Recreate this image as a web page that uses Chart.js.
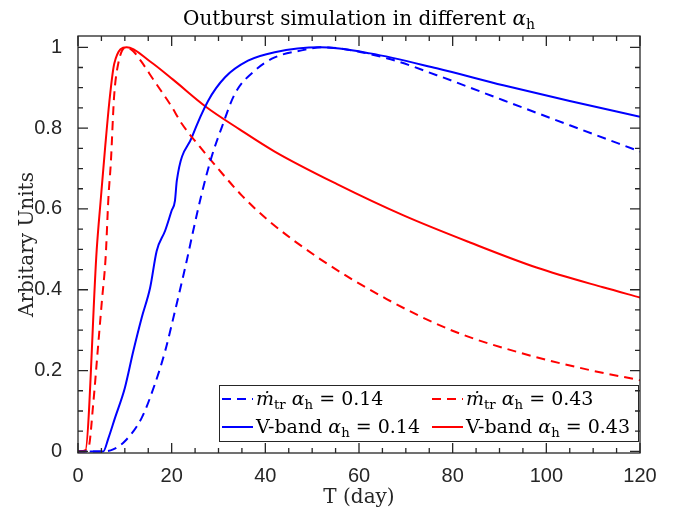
<!DOCTYPE html>
<html>
<head>
<meta charset="utf-8">
<script src="https://cdn.jsdelivr.net/npm/chart.js@4.4.1/dist/chart.umd.min.js"></script>
<style>
  html, body { margin: 0; padding: 0; background: #fff; }
  #wrap { width: 678px; height: 513px; }
</style>
</head>
<body>
<div id="wrap"><canvas id="chart"></canvas></div>
<script>
// mdot_tr, alpha_h = 0.14
var tMdotLow = [0, 5.4, 7.5, 10, 13.6, 16.4, 18.6, 20.7, 23.2, 24.6, 26.4, 28.5, 30.7, 33.5, 37.8, 42, 48, 52, 65.9, 76.6, 90.8, 105, 120];
var mdotLow = [0, 0, 0.005, 0.025, 0.083, 0.166, 0.248, 0.347, 0.471, 0.546, 0.637, 0.728, 0.802, 0.885, 0.943, 0.975, 0.993, 1.0, 0.973, 0.931, 0.869, 0.807, 0.742];
// mdot_tr, alpha_h = 0.43
var tMdotHigh = [0, 2.2, 3.3, 4.2, 5.1, 5.9, 6.5, 7.0, 7.7, 8.6, 10.2, 11.8, 13.5, 16.1, 20, 22.1, 26, 30.7, 35, 40.6, 51.7, 65.9, 80.1, 94.4, 108.6, 120];
var mdotHigh = [0, 0.008, 0.124, 0.248, 0.372, 0.48, 0.629, 0.712, 0.877, 0.96, 1.0, 0.99, 0.965, 0.92, 0.853, 0.812, 0.754, 0.689, 0.633, 0.572, 0.476, 0.377, 0.298, 0.244, 0.203, 0.176];
// V-band, alpha_h = 0.14
var tVLow = [2.5, 5.4, 6.5, 7.9, 10, 11.8, 13.6, 15.4, 16.8, 18.6, 20, 20.7, 21.1, 24.3, 27.8, 31.4, 36.3, 42, 51.7, 62.4, 76.6, 90.8, 105, 120];
var vLow = [0, 0, 0.033, 0.083, 0.157, 0.248, 0.331, 0.405, 0.496, 0.546, 0.596, 0.62, 0.67, 0.777, 0.868, 0.926, 0.967, 0.988, 1.0, 0.985, 0.948, 0.906, 0.867, 0.828];
// V-band, alpha_h = 0.43
var tVHigh = [0, 1.5, 4.0, 4.9, 5.8, 6.8, 7.75, 10.4, 15.4, 20.3, 27.3, 34.5, 42, 55.2, 69.5, 83.7, 97.9, 112.1, 120];
var vHigh = [0, 0, 0.5, 0.629, 0.753, 0.877, 0.96, 1.0, 0.965, 0.92, 0.853, 0.797, 0.742, 0.662, 0.584, 0.517, 0.455, 0.406, 0.381];

var xTicks = [0, 20, 40, 60, 80, 100, 120];
var yTicks = [0, 0.2, 0.4, 0.6, 0.8, 1];

function pts(t, v) {
  return t.map(function (x, i) { return { x: x, y: v[i] }; });
}

var AXIS = '#262626';
var SERIF = '"DejaVu Serif", serif';
var SANS = '"Liberation Sans", Arial, sans-serif';

// draws text pieces with italics / subscripts, returns width
function richText(ctx, x, y, parts, size, measureOnly) {
  var cx = x;
  parts.forEach(function (p) {
    var s = p.sub ? size * 0.7 : size;
    ctx.font = (p.i ? 'italic ' : '') + s + 'px ' + SERIF;
    if (!measureOnly) ctx.fillText(p.t, cx, p.sub ? y + size * 0.22 : y);
    cx += ctx.measureText(p.t).width;
  });
  return cx - x;
}

var legendItems = [
  { color: '#0000ff', dash: [9, 6], parts: [{ t: 'ṁ', i: true }, { t: 'tr', sub: true }, { t: ' ' }, { t: 'α', i: true }, { t: 'h', sub: true }, { t: ' = 0.14' }] },
  { color: '#ff0000', dash: [9, 6], parts: [{ t: 'ṁ', i: true }, { t: 'tr', sub: true }, { t: ' ' }, { t: 'α', i: true }, { t: 'h', sub: true }, { t: ' = 0.43' }] },
  { color: '#0000ff', dash: [], parts: [{ t: 'V-band ' }, { t: 'α', i: true }, { t: 'h', sub: true }, { t: ' = 0.14' }] },
  { color: '#ff0000', dash: [], parts: [{ t: 'V-band ' }, { t: 'α', i: true }, { t: 'h', sub: true }, { t: ' = 0.43' }] }
];

var framePlugin = {
  id: 'frame',
  afterDatasetsDraw: function (chart) {
    var ctx = chart.ctx, a = chart.chartArea;
    var xs = chart.scales.x, ys = chart.scales.y;
    ctx.save();
    // legend box
    var lx = 219, ly = 385, lw = 419, lh = 56;
    ctx.fillStyle = '#fff';
    ctx.fillRect(lx, ly, lw, lh);
    ctx.strokeStyle = AXIS;
    ctx.lineWidth = 1;
    ctx.strokeRect(lx + 0.5, ly + 0.5, lw, lh);
    var cols = [222, 432], rows = [399, 427];
    legendItems.forEach(function (it, k) {
      var c = cols[k % 2], r = rows[Math.floor(k / 2)];
      ctx.strokeStyle = it.color;
      ctx.lineWidth = 2;
      ctx.setLineDash(it.dash);
      ctx.beginPath();
      ctx.moveTo(c, r);
      ctx.lineTo(c + 31, r);
      ctx.stroke();
      ctx.setLineDash([]);
      ctx.fillStyle = '#000';
      ctx.textBaseline = 'alphabetic';
      ctx.textAlign = 'left';
      richText(ctx, c + 34, r + 6, it.parts, 19);
    });

    // box and inward ticks
    ctx.strokeStyle = AXIS;
    ctx.lineWidth = 1.3;
    ctx.strokeRect(a.left, a.top, a.right - a.left, a.bottom - a.top);
    ctx.beginPath();
    for (var v = 0; v <= 120; v += 5) {
      var px = xs.getPixelForValue(v);
      var len = v % 20 === 0 ? 10 : 5;
      ctx.moveTo(px, a.bottom); ctx.lineTo(px, a.bottom - len);
      ctx.moveTo(px, a.top); ctx.lineTo(px, a.top + len);
    }
    for (var k = 0; k <= 20; k++) {
      var py = ys.getPixelForValue(k * 0.05);
      var l2 = k % 4 === 0 ? 10 : 5;
      ctx.moveTo(a.left, py); ctx.lineTo(a.left + l2, py);
      ctx.moveTo(a.right, py); ctx.lineTo(a.right - l2, py);
    }
    ctx.stroke();

    // title
    ctx.fillStyle = '#000';
    var tparts = [{ t: 'Outburst simulation in different ' }, { t: 'α', i: true }, { t: 'h', sub: true }];
    var w = richText(ctx, 0, 0, tparts, 20, true);
    richText(ctx, (a.left + a.right) / 2 - w / 2, 25, tparts, 20);
    ctx.restore();
  }
};

function ds(label, t, v, color, dash) {
  return {
    label: label,
    data: pts(t, v),
    borderColor: color,
    borderWidth: 2,
    borderDash: dash,
    pointRadius: 0,
    fill: false,
    cubicInterpolationMode: 'monotone'
  };
}

new Chart(document.getElementById('chart'), {
  type: 'line',
  data: {
    datasets: [
      ds('mdot 0.14', tMdotLow, mdotLow, '#0000ff', [9, 6]),
      ds('mdot 0.43', tMdotHigh, mdotHigh, '#ff0000', [9, 6]),
      ds('V-band 0.14', tVLow, vLow, '#0000ff', []),
      ds('V-band 0.43', tVHigh, vHigh, '#ff0000', [])
    ]
  },
  options: {
    responsive: true,
    maintainAspectRatio: false,
    animation: false,
    layout: { padding: { left: 0, right: 38, top: 36, bottom: 0 } },
    plugins: {
      legend: { display: false },
      title: { display: false },
      tooltip: { enabled: false }
    },
    scales: {
      x: {
        type: 'linear',
        min: 0,
        max: 120,
        afterBuildTicks: function (s) { s.ticks = xTicks.map(function (v) { return { value: v }; }); },
        afterFit: function (s) { s.height = 60; },
        grid: { display: false },
        border: { display: false },
        ticks: { color: AXIS, font: { family: SANS, size: 20 }, padding: 3, maxRotation: 0 },
        title: { display: true, text: 'T (day)', color: '#262626', font: { family: SERIF, size: 20 }, padding: { top: 0, bottom: 3 } }
      },
      y: {
        min: -0.004,
        max: 1.028,
        afterBuildTicks: function (s) { s.ticks = yTicks.map(function (v) { return { value: v }; }); },
        afterFit: function (s) { s.width = 78; },
        grid: { display: false },
        border: { display: false },
        ticks: { color: AXIS, font: { family: SANS, size: 20 }, padding: 8, callback: function (v) { return String(v); } },
        title: { display: true, text: 'Arbitary Units', color: '#262626', font: { family: SERIF, size: 20 }, padding: { top: 16, bottom: 0 } }
      }
    }
  },
  plugins: [framePlugin]
});
</script>
</body>
</html>
